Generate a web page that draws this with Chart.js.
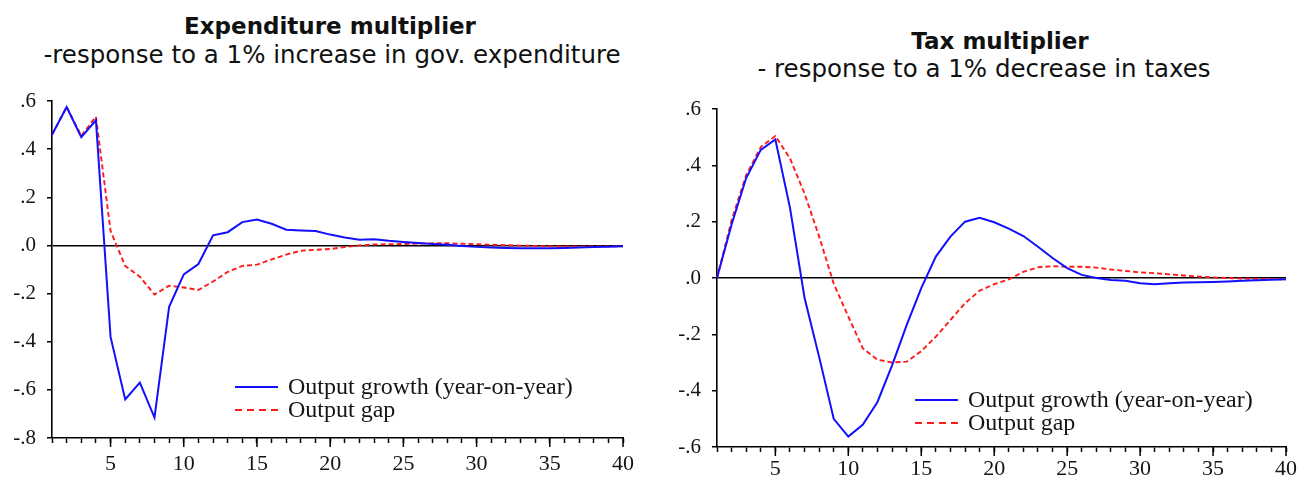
<!DOCTYPE html>
<html>
<head>
<meta charset="utf-8">
<script src="https://cdn.jsdelivr.net/npm/chart.js@4.4.1/dist/chart.umd.min.js"></script>
<style>
  html, body { margin: 0; padding: 0; background: #fff; }
  body { width: 1301px; height: 477px; position: relative; overflow: hidden; }
  .box { position: absolute; top: 0; height: 477px; }
  .ttl { position: absolute; white-space: nowrap; color: #111; transform: translateX(-50%); }
  .main { font: bold 23px "DejaVu Sans", sans-serif; line-height: 23px; }
  .sub { font: 24.5px "DejaVu Sans", sans-serif; line-height: 24px; }
</style>
</head>
<body>
<div class="ttl main" style="left:330px; top:15px;">Expenditure multiplier</div>
<div class="ttl sub" style="left:332px; top:43px;">-response to a 1% increase in gov. expenditure</div>
<div class="ttl main" style="left:1000px; top:30px;">Tax multiplier</div>
<div class="ttl sub" style="left:984px; top:57px;">- response to a 1% decrease in taxes</div>

<div class="box" style="left:0; width:650px;"><canvas id="exp" width="650" height="477"></canvas></div>
<div class="box" style="left:650px; width:651px;"><canvas id="tax" width="651" height="477"></canvas></div>

<script>
// Horizon (quarters after the shock)
const periods = [1,2,3,4,5,6,7,8,9,10,11,12,13,14,15,16,17,18,19,20,
                 21,22,23,24,25,26,27,28,29,30,31,32,33,34,35,36,37,38,39,40];

const seriesNames = ['Output growth (year-on-year)', 'Output gap'];

// Response to a 1% increase in government expenditure
const expGrowth = [0.46,0.575,0.45,0.52,-0.38,-0.64,-0.57,-0.715,-0.255,-0.12,
                   -0.077,0.042,0.055,0.097,0.108,0.09,0.065,0.062,0.06,0.045,
                   0.033,0.024,0.026,0.019,0.014,0.01,0.006,0.003,-0.002,-0.006,
                   -0.009,-0.011,-0.012,-0.012,-0.012,-0.011,-0.009,-0.007,-0.005,-0.003];
const expGap = [0.46,0.575,0.455,0.535,0.06,-0.085,-0.13,-0.204,-0.167,-0.175,
                -0.185,-0.15,-0.11,-0.085,-0.08,-0.058,-0.038,-0.022,-0.018,-0.015,
                -0.007,0.0,0.004,0.005,0.006,0.008,0.009,0.009,0.007,0.005,
                0.003,0.001,-0.001,-0.002,-0.003,-0.004,-0.004,-0.004,-0.004,-0.004];

// Response to a 1% decrease in taxes
const taxGrowth = [0.0,0.19,0.355,0.455,0.492,0.25,-0.07,-0.28,-0.5,-0.563,
                   -0.52,-0.44,-0.31,-0.167,-0.036,0.076,0.147,0.2,0.214,0.198,
                   0.175,0.149,0.111,0.071,0.035,0.011,0.0,-0.007,-0.01,-0.019,
                   -0.022,-0.019,-0.016,-0.015,-0.014,-0.012,-0.01,-0.008,-0.006,-0.004];
const taxGap = [0.0,0.205,0.365,0.465,0.504,0.425,0.30,0.147,-0.02,-0.137,
                -0.25,-0.29,-0.30,-0.297,-0.26,-0.208,-0.149,-0.09,-0.045,-0.022,
                -0.005,0.022,0.038,0.042,0.04,0.04,0.037,0.03,0.025,0.02,
                0.017,0.013,0.009,0.005,0.002,0.0,-0.002,-0.003,-0.004,-0.005];

const xLabelStep = 5;

const TEXT = '#141414';
const SERIF = '"Liberation Serif", "Times New Roman", serif';

// Longer tick marks at every labelled period on the x axis
const majorTicks = {
  id: 'majorTicks',
  afterDraw(chart) {
    const x = chart.scales.x, ctx = chart.ctx;
    const y0 = chart.chartArea.bottom;
    ctx.save();
    ctx.strokeStyle = '#000';
    ctx.lineWidth = 1.5;
    periods.forEach((p, i) => {
      if (p % xLabelStep !== 0) return;
      const px = x.getPixelForValue(i);
      ctx.beginPath();
      ctx.moveTo(px, y0);
      ctx.lineTo(px, y0 + 9);
      ctx.stroke();
    });
    ctx.restore();
  }
};

// Legend drawn inside the plot, lower right
const innerLegend = {
  id: 'innerLegend',
  afterDraw(chart, args, opts) {
    const ctx = chart.ctx, a = chart.chartArea;
    const x0 = a.left + opts.dx, y0 = a.bottom - opts.dy;
    ctx.save();
    ctx.font = '24px ' + SERIF;
    ctx.textBaseline = 'middle';
    ctx.fillStyle = TEXT;
    chart.data.datasets.forEach((ds, i) => {
      const y = y0 + i * 23;
      ctx.strokeStyle = ds.borderColor;
      ctx.lineWidth = 1.8;
      ctx.setLineDash(ds.legendDash || []);
      ctx.beginPath();
      ctx.moveTo(x0, y);
      ctx.lineTo(x0 + 43, y);
      ctx.stroke();
      ctx.setLineDash([]);
      ctx.fillText(ds.label, x0 + 53, y + 1);
    });
    ctx.restore();
  }
};

function makeChart(id, growth, gap, cfg) {
  return new Chart(document.getElementById(id), {
    type: 'line',
    data: {
      labels: periods,
      datasets: [
        { label: seriesNames[0], data: growth, borderColor: '#1010ff', borderWidth: 2,
          pointRadius: 0, tension: 0, fill: false },
        { label: seriesNames[1], data: gap, borderColor: '#ff1a1a', borderWidth: 1.9,
          borderDash: [5, 3], legendDash: [7, 5], pointRadius: 0, tension: 0, fill: false }
      ]
    },
    options: {
      responsive: false,
      animation: false,
      devicePixelRatio: 1,
      layout: { padding: { top: cfg.top, right: cfg.right, left: 0, bottom: 0 } },
      plugins: {
        legend: { display: false },
        tooltip: { enabled: false },
        title: { display: false },
        innerLegend: cfg.legend
      },
      scales: {
        x: {
          type: 'category',
          offset: false,
          afterFit(s) { s.height = cfg.xHeight; },
          border: { display: true, color: '#000', width: 1.6 },
          grid: { display: true, drawOnChartArea: false, drawTicks: true, tickLength: 5,
                  tickColor: '#000', tickWidth: 1.5, offset: false },
          ticks: {
            autoSkip: false, maxRotation: 0, padding: cfg.xPad, color: TEXT,
            font: { family: SERIF, size: 22 },
            callback(v) {
              const p = periods[v];
              return p % xLabelStep === 0 ? String(p) : '';
            }
          }
        },
        y: {
          min: cfg.min, max: cfg.max,
          afterFit(s) { s.width = cfg.yWidth; },
          border: { display: true, color: '#000', width: 1.6 },
          grid: {
            drawTicks: true, tickLength: 5, tickColor: '#000', tickWidth: 1.5,
            lineWidth: 1.5,
            color: c => (c.tick && Math.abs(c.tick.value) < 1e-9) ? '#000' : 'rgba(0,0,0,0)'
          },
          ticks: {
            stepSize: 0.2, padding: 11, color: TEXT,
            font: { family: SERIF, size: 21 },
            callback(v) {
              const s = (Math.abs(v) < 1e-9 ? 0 : v).toFixed(1);
              return s.replace('0.', '.');
            }
          }
        }
      }
    },
    plugins: [majorTicks, innerLegend]
  });
}

makeChart('exp', expGrowth, expGap, {
  top: 101, right: 27, xHeight: 39, yWidth: 52, min: -0.8, max: 0.6, xPad: 8,
  legend: { dx: 183, dy: 51 }
});
makeChart('tax', taxGrowth, taxGap, {
  top: 109, right: 13, xHeight: 30, yWidth: 67, min: -0.6, max: 0.6, xPad: 4,
  legend: { dx: 198, dy: 47 }
});
</script>
</body>
</html>
